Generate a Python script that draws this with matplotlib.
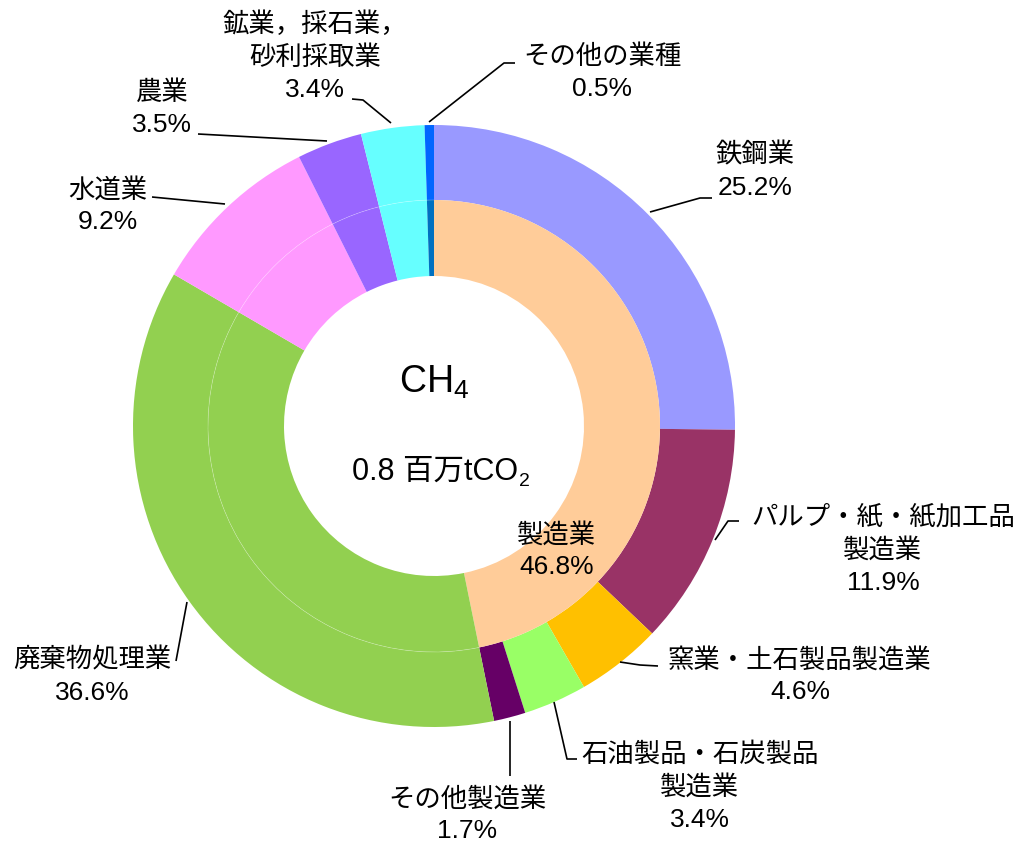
import numpy as np
import matplotlib
matplotlib.use("Agg")
import matplotlib.pyplot as plt
from matplotlib.patches import Arc

plt.rcParams['font.family'] = ['Liberation Sans', 'Noto Sans CJK JP', 'DejaVu Sans']
plt.rcParams['mathtext.fontset'] = 'custom'
plt.rcParams['mathtext.rm'] = 'Liberation Sans'

# ── data ─────────────────────────────────────────
outer_labels = ['鉄鋼業', 'パルプ・紙・紙加工品\n製造業', '窯業・土石製品製造業',
                '石油製品・石炭製品\n製造業', 'その他製造業', '廃棄物処理業',
                '水道業', '農業', '鉱業，採石業，\n砂利採取業', 'その他の業種']
outer_values = [25.2, 11.9, 4.6, 3.4, 1.7, 36.6, 9.2, 3.5, 3.4, 0.5]
outer_colors = ['#9999FF', '#993366', '#FFC000', '#99FF66', '#660066',
                '#92D050', '#FF99FF', '#9966FF', '#66FFFF', '#0066FF']

inner_labels = ['製造業', '廃棄物処理業', '水道業', '農業', '鉱業，採石業，砂利採取業', 'その他の業種']
inner_values = [46.8, 36.6, 9.2, 3.5, 3.4, 0.5]
inner_colors = ['#FFCC99', '#92D050', '#FF99FF', '#9966FF', '#66FFFF', '#0070C0']

total = 0.8  # 百万tCO2

W, H = 1028, 845
fig = plt.figure(figsize=(W / 100, H / 100), dpi=100)
ax = fig.add_axes([0, 0, 1, 1])

def Y(py):  # picture row -> data y
    return H - py

cx, cy = 434, Y(427)
R_out, R_mid, R_in = 301, 226, 150

ax.pie(outer_values, colors=outer_colors, radius=R_out, center=(cx, cy),
       startangle=90, counterclock=False,
       wedgeprops=dict(width=R_out - R_mid, linewidth=0))
ax.pie(inner_values, colors=inner_colors, radius=R_mid, center=(cx, cy),
       startangle=90, counterclock=False,
       wedgeprops=dict(width=R_mid - R_in, linewidth=0))
ax.set_xlim(0, W)
ax.set_ylim(0, H)
ax.set_aspect('equal')
ax.axis('off')

# faint seam between the two rings
end_ang = 90 - inner_values[0] * 3.6
ax.add_patch(Arc((cx, cy), 2 * R_mid, 2 * R_mid, theta1=90, theta2=360 + end_ang,
                 color='white', lw=0.5, alpha=0.3))

FS = 19
LS = 1.42
# label text blocks: (x, y_center) in picture coords
pct = [f'{v:.1f}%' for v in outer_values]
label_pos = [(755, 171), (883, 550), (800, 676), (700, 787), (467, 815),
             (92, 676), (108, 206), (162, 109), (315, 57), (602, 73)]
for lab, p, (x, y) in zip(outer_labels, pct, label_pos):
    ax.text(x, Y(y), f'{lab}\n{p}', ha='center', va='center', fontsize=FS,
            linespacing=LS)

ax.text(557, Y(551), f'{inner_labels[0]}\n{inner_values[0]:.1f}%', ha='center',
        va='center', fontsize=FS, linespacing=LS)

# leader lines
leaders = [
    [(650, 213), (700, 199), (712, 199)],
    [(715, 541), (728, 522), (739, 522)],
    [(620, 663), (640, 666), (658, 667)],
    [(554, 703), (567, 760), (577, 760)],
    [(510, 722), (510, 777)],
    [(176, 662), (187, 603)],
    [(152, 198), (225, 205)],
    [(198, 135), (327, 142)],
    [(352, 100), (363, 101), (391, 124)],
    [(515, 64), (504, 64), (429, 123)],
]
for pts in leaders:
    xs = [p[0] for p in pts]
    ys = [Y(p[1]) for p in pts]
    ax.plot(xs, ys, color='black', lw=1.2, solid_capstyle='butt')

# centre text
ax.text(434, Y(393), r'$\mathregular{CH_4}$', ha='center', va='baseline', fontsize=27)
t = ax.text(352, Y(480), f'{total} 百万tCO', ha='left', va='baseline', fontsize=22)
fig.canvas.draw()
bb = t.get_window_extent()
ax.text(bb.x1 + 1, Y(486), '2', ha='left', va='baseline', fontsize=14)

fig.savefig('out.png', dpi=100)
